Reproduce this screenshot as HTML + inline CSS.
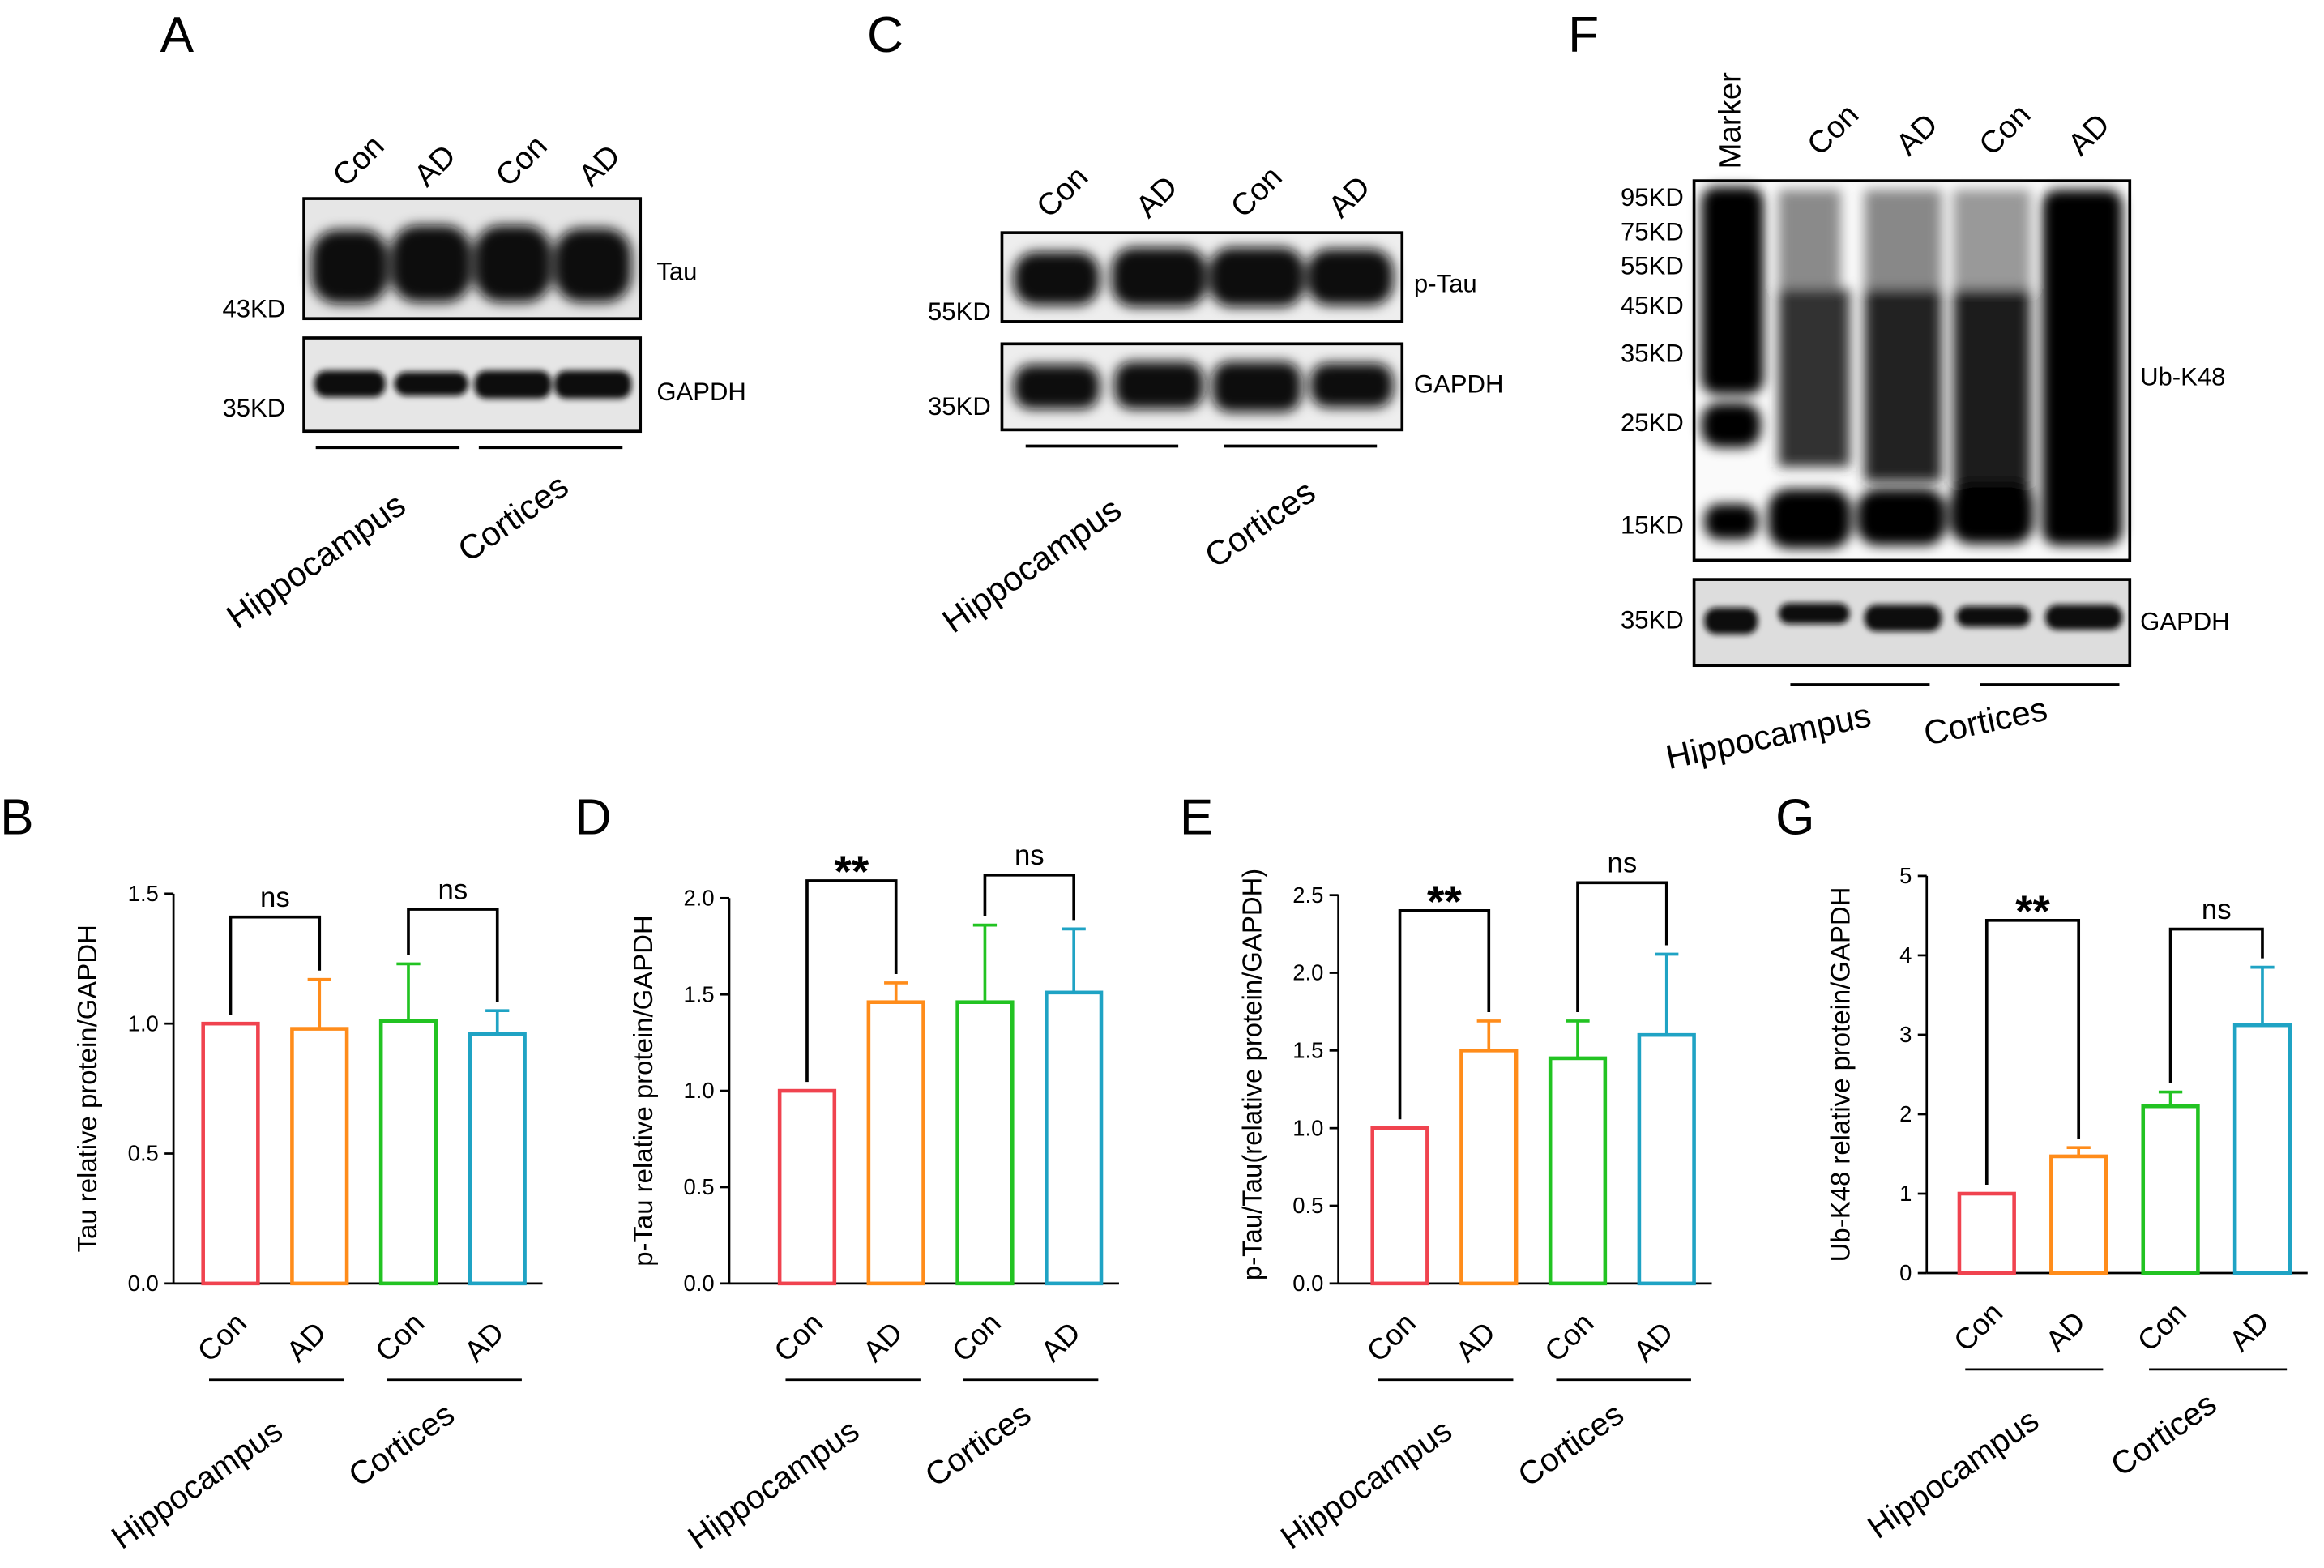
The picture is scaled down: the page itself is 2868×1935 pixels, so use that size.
<!DOCTYPE html>
<html><head><meta charset="utf-8"><style>
html,body{margin:0;padding:0;background:#fff}
svg{display:block;font-family:"Liberation Sans",Arial,sans-serif}
</style></head><body>
<svg id="fig" width="2868" height="1935" viewBox="0 0 1568 1058" xmlns="http://www.w3.org/2000/svg">
<defs>
<filter id="bl" x="-20%" y="-50%" width="140%" height="200%"><feGaussianBlur stdDeviation="4"/></filter>
<filter id="bl2" x="-20%" y="-50%" width="140%" height="200%"><feGaussianBlur stdDeviation="2"/></filter>
</defs>
<g font-size="34" fill="#000">
<text x="108" y="35">A</text>
<text x="585" y="35">C</text>
<text x="1058" y="35">F</text>
<text x="0" y="563">B</text>
<text x="388" y="563">D</text>
<text x="796" y="563">E</text>
<text x="1198" y="563">G</text>
</g>

<!-- Blot A -->
<g font-size="17">
<text font-size="21" transform="translate(233,127) rotate(-45)">Con</text>
<text font-size="21" transform="translate(288,127) rotate(-45)">AD</text>
<text font-size="21" transform="translate(343,127) rotate(-45)">Con</text>
<text font-size="21" transform="translate(399,127) rotate(-45)">AD</text>
<rect x="205" y="134" width="227" height="81" fill="#e6e6e6" stroke="#000" stroke-width="2"/>
<g filter="url(#bl)" fill="#111"><rect x="210" y="155" width="52" height="50" rx="18"/><rect x="264" y="152" width="54" height="52" rx="18"/><rect x="320" y="152" width="52" height="52" rx="18"/><rect x="374" y="154" width="52" height="50" rx="18"/></g>
<rect x="205" y="228" width="227" height="63" fill="#e6e6e6" stroke="#000" stroke-width="2"/>
<g filter="url(#bl2)" fill="#111"><rect x="212" y="250" width="48" height="18" rx="8"/><rect x="266" y="251" width="50" height="16" rx="8"/><rect x="320" y="250" width="52" height="19" rx="8"/><rect x="374" y="250" width="52" height="19" rx="8"/></g>
<text x="443" y="189">Tau</text><text x="443" y="270">GAPDH</text>
<text x="150" y="214">43KD</text><text x="150" y="281">35KD</text>
<line x1="213" y1="302" x2="310" y2="302" stroke="#000" stroke-width="2"/>
<line x1="323" y1="302" x2="420" y2="302" stroke="#000" stroke-width="2"/>
<text font-size="23" transform="translate(160,425) rotate(-35)">Hippocampus</text>
<text font-size="23" transform="translate(316,380) rotate(-35)">Cortices</text>
</g>

<!-- Blot C -->
<g font-size="17">
<text font-size="21" transform="translate(708,148) rotate(-45)">Con</text>
<text font-size="21" transform="translate(775,148) rotate(-45)">AD</text>
<text font-size="21" transform="translate(839,148) rotate(-45)">Con</text>
<text font-size="21" transform="translate(905,148) rotate(-45)">AD</text>
<rect x="676" y="157" width="270" height="60" fill="#eee" stroke="#000" stroke-width="2"/>
<g filter="url(#bl)" fill="#111"><rect x="684" y="170" width="58" height="36" rx="15"/><rect x="750" y="167" width="64" height="40" rx="15"/><rect x="816" y="167" width="64" height="40" rx="15"/><rect x="882" y="168" width="58" height="38" rx="15"/></g>
<rect x="676" y="232" width="270" height="58" fill="#eee" stroke="#000" stroke-width="2"/>
<g filter="url(#bl)" fill="#111"><rect x="684" y="246" width="58" height="30" rx="12"/><rect x="752" y="244" width="60" height="32" rx="12"/><rect x="818" y="244" width="60" height="34" rx="12"/><rect x="884" y="245" width="56" height="30" rx="12"/></g>
<text x="954" y="197">p-Tau</text><text x="954" y="265">GAPDH</text>
<text x="626" y="216">55KD</text><text x="626" y="280">35KD</text>
<line x1="692" y1="301" x2="795" y2="301" stroke="#000" stroke-width="2"/>
<line x1="826" y1="301" x2="929" y2="301" stroke="#000" stroke-width="2"/>
<text font-size="23" transform="translate(643,428) rotate(-35)">Hippocampus</text>
<text font-size="23" transform="translate(820,384) rotate(-35)">Cortices</text>
</g>

<!-- Blot F -->
<g font-size="17">
<text font-size="21" transform="translate(1174,114) rotate(-90)">Marker</text>
<text font-size="21" transform="translate(1228,106) rotate(-45)">Con</text>
<text font-size="21" transform="translate(1288,106) rotate(-45)">AD</text>
<text font-size="21" transform="translate(1344,106) rotate(-45)">Con</text>
<text font-size="21" transform="translate(1404,106) rotate(-45)">AD</text>
<rect x="1143" y="122" width="294" height="256" fill="#fafafa" stroke="#000" stroke-width="2"/>
<g filter="url(#bl)">
<rect x="1148" y="126" width="42" height="140" rx="10" fill="#000"/>
<rect x="1148" y="226" width="38" height="24" rx="10" fill="#000"/>
<rect x="1148" y="272" width="40" height="30" rx="12" fill="#000"/>
<rect x="1150" y="340" width="36" height="24" rx="10" fill="#000"/>
<rect x="1200" y="128" width="42" height="70" fill="#8a8a8a"/>
<rect x="1258" y="128" width="52" height="70" fill="#888"/>
<rect x="1318" y="128" width="52" height="70" fill="#999"/>
<rect x="1200" y="195" width="48" height="120" fill="#333"/>
<rect x="1258" y="195" width="52" height="130" fill="#222"/>
<rect x="1318" y="195" width="52" height="140" fill="#1a1a1a"/>
<rect x="1193" y="330" width="56" height="40" rx="14" fill="#000"/>
<rect x="1253" y="330" width="60" height="38" rx="14" fill="#000"/>
<rect x="1316" y="325" width="56" height="42" rx="14" fill="#000"/>
<rect x="1378" y="128" width="54" height="240" rx="10" fill="#000"/>
</g>
<rect x="1143" y="391" width="294" height="58" fill="#ddd" stroke="#000" stroke-width="2"/>
<g filter="url(#bl2)" fill="#111"><rect x="1150" y="410" width="36" height="18" rx="8"/><rect x="1200" y="407" width="48" height="14" rx="7"/><rect x="1258" y="408" width="52" height="18" rx="8"/><rect x="1320" y="409" width="50" height="14" rx="7"/><rect x="1380" y="408" width="52" height="17" rx="8"/></g>
<g text-anchor="end"><text x="1136" y="139">95KD</text><text x="1136" y="162">75KD</text><text x="1136" y="185">55KD</text><text x="1136" y="212">45KD</text><text x="1136" y="244">35KD</text><text x="1136" y="291">25KD</text><text x="1136" y="360">15KD</text><text x="1136" y="424">35KD</text></g>
<text x="1444" y="260">Ub-K48</text><text x="1444" y="425">GAPDH</text>
<line x1="1208" y1="462" x2="1302" y2="462" stroke="#000" stroke-width="2"/>
<line x1="1336" y1="462" x2="1430" y2="462" stroke="#000" stroke-width="2"/>
<text font-size="23" transform="translate(1126,519) rotate(-12)">Hippocampus</text>
<text font-size="23" transform="translate(1300,503) rotate(-12)">Cortices</text>
</g>
<g id="charts"></g>
</svg>
<script>
// Chart data
const categories = ["Con","AD","Con","AD"];
const colors = ["#f0434f","#ff8c1a","#22c322","#1fa3c4"];
const bValues = [1.0, 0.98, 1.01, 0.96];
const bErrors = [null, 1.17, 1.23, 1.05];
const bTicks = [0, 0.5, 1.0, 1.5];
const bSig = ["ns","ns"];
const bBracket = [1.41, 1.44];
const dValues = [1.0, 1.46, 1.46, 1.51];
const dErrors = [null, 1.56, 1.86, 1.84];
const dTicks = [0, 0.5, 1.0, 1.5, 2.0];
const dSig = ["**","ns"];
const dBracket = [2.09, 2.12];
const eValues = [1.0, 1.50, 1.45, 1.60];
const eErrors = [null, 1.69, 1.69, 2.12];
const eTicks = [0, 0.5, 1.0, 1.5, 2.0, 2.5];
const eSig = ["**","ns"];
const eBracket = [2.40, 2.58];
const gValues = [1.0, 1.47, 2.1, 3.12];
const gErrors = [null, 1.58, 2.28, 3.85];
const gTicks = [0, 1, 2, 3, 4, 5];
const gSig = ["**","ns"];
const gBracket = [4.44, 4.33];

const NS="http://www.w3.org/2000/svg";
const root=document.getElementById('charts');
function mk(tag,attrs,parent,text){const e=document.createElementNS(NS,tag);for(const k in attrs)e.setAttribute(k,attrs[k]);if(text!==undefined)e.textContent=text;parent.appendChild(e);return e;}

function chart(cfg){
  const g=mk('g',{},root);
  
  
  const ymax=cfg.ticks[cfg.ticks.length-1];
  const y=v=>cfg.y0-(v/ymax)*(cfg.y0-cfg.ytop);
  const bw=37, step=cfg.step;
  const bx=i=>cfg.x0+cfg.first+i*step;
  const ax=mk('line',{x1:cfg.x0,y1:cfg.ytop,x2:cfg.x0,y2:cfg.y0,stroke:'#000','stroke-width':1.5},g);
  
  
  const xa=mk('line',{x1:cfg.x0,y1:cfg.y0,x2:bx(3)+bw+12,y2:cfg.y0,stroke:'#000','stroke-width':1.5},g);
  
  
  cfg.ticks.forEach(t=>{
    mk('line',{x1:cfg.x0-6,y1:y(t),x2:cfg.x0,y2:y(t),stroke:'#000','stroke-width':1.5},g);
    const tl=mk('text',{x:cfg.x0-10,y:y(t)+5,'text-anchor':'end','font-size':15},g,cfg.fmt(t));
    
    
  });
  const yl=mk('text',{transform:`translate(${cfg.x0-52},${(cfg.y0+cfg.ytop)/2+cfg.ylOff}) rotate(-90)`,'text-anchor':'middle','font-size':18},g,cfg.ylabel);
  
  
  cfg.values.forEach((v,i)=>{
    const x=bx(i);
    const r=mk('rect',{x:x,y:y(v),width:bw,height:cfg.y0-y(v),fill:'#fff',stroke:colors[i],'stroke-width':2.5},g);
    
    
    const e=cfg.errors[i];
    if(e!=null){
      const el=mk('path',{d:`M${x+bw/2},${y(v)} V${y(e)} M${x+bw/2-8},${y(e)} H${x+bw/2+8}`,stroke:colors[i],'stroke-width':2,fill:'none'},g);
      
      
    }
    const cx=x+bw/2, cy=cfg.y0+18;
    const cl=mk('text',{transform:`translate(${cx-14},${cy+36}) rotate(-45)`,'font-size':20},g,categories[i]);
    
    
  });
  [[0,1],[2,3]].forEach((p,k)=>{
    const l=mk('line',{x1:bx(p[0])+4,y1:cfg.y0+65,x2:bx(p[1])+bw-2,y2:cfg.y0+65,stroke:'#000','stroke-width':1.5},g);
    
    
    const yt=y(cfg.bracket[k]);
    const xa=bx(p[0])+bw/2, xb=bx(p[1])+bw/2;
    const ya=y(Math.max(cfg.values[p[0]],cfg.errors[p[0]]||0))-6, yb=y(Math.max(cfg.values[p[1]],cfg.errors[p[1]]||0))-6;
    const br=mk('path',{d:`M${xa},${ya} V${yt} H${xb} V${yb}`,stroke:'#000','stroke-width':2,fill:'none'},g);
    
    
    const s=cfg.sig[k];
    const st=mk('text',{x:(xa+xb)/2,y:yt-(s=='**'?-4:7),'text-anchor':'middle','font-size':s=='**'?30:19,'font-weight':s=='**'?'bold':'normal'},g,s);
    
    
  });
  const h=mk('text',{transform:`translate(${bx(0)-55},${cfg.y0+180}) rotate(-35)`,'font-size':22},g,'Hippocampus');
  
  
  const c=mk('text',{transform:`translate(${bx(2)-15},${cfg.y0+138}) rotate(-35)`,'font-size':22},g,'Cortices');
  
  
}
const f1=t=>t.toFixed(1), f0=t=>String(t);
chart({name:'chart-b',x0:117,y0:866,ytop:603,first:20,step:60,ticks:bTicks,values:bValues,errors:bErrors,sig:bSig,bracket:bBracket,fmt:f1,ylabel:'Tau relative protein/GAPDH',ylOff:0});
chart({name:'chart-d',x0:492,y0:866,ytop:606,first:34,step:60,ticks:dTicks,values:dValues,errors:dErrors,sig:dSig,bracket:dBracket,fmt:f1,ylabel:'p-Tau relative protein/GAPDH',ylOff:0});
chart({name:'chart-e',x0:903,y0:866,ytop:604,first:23,step:60,ticks:eTicks,values:eValues,errors:eErrors,sig:eSig,bracket:eBracket,fmt:f1,ylabel:'p-Tau/Tau(relative protein/GAPDH)',ylOff:-10});
chart({name:'chart-g',x0:1300,y0:859,ytop:591,first:22,step:62,ticks:gTicks,values:gValues,errors:gErrors,sig:gSig,bracket:gBracket,fmt:f0,ylabel:'Ub-K48 relative protein/GAPDH',ylOff:0});
</script>
</body></html>
